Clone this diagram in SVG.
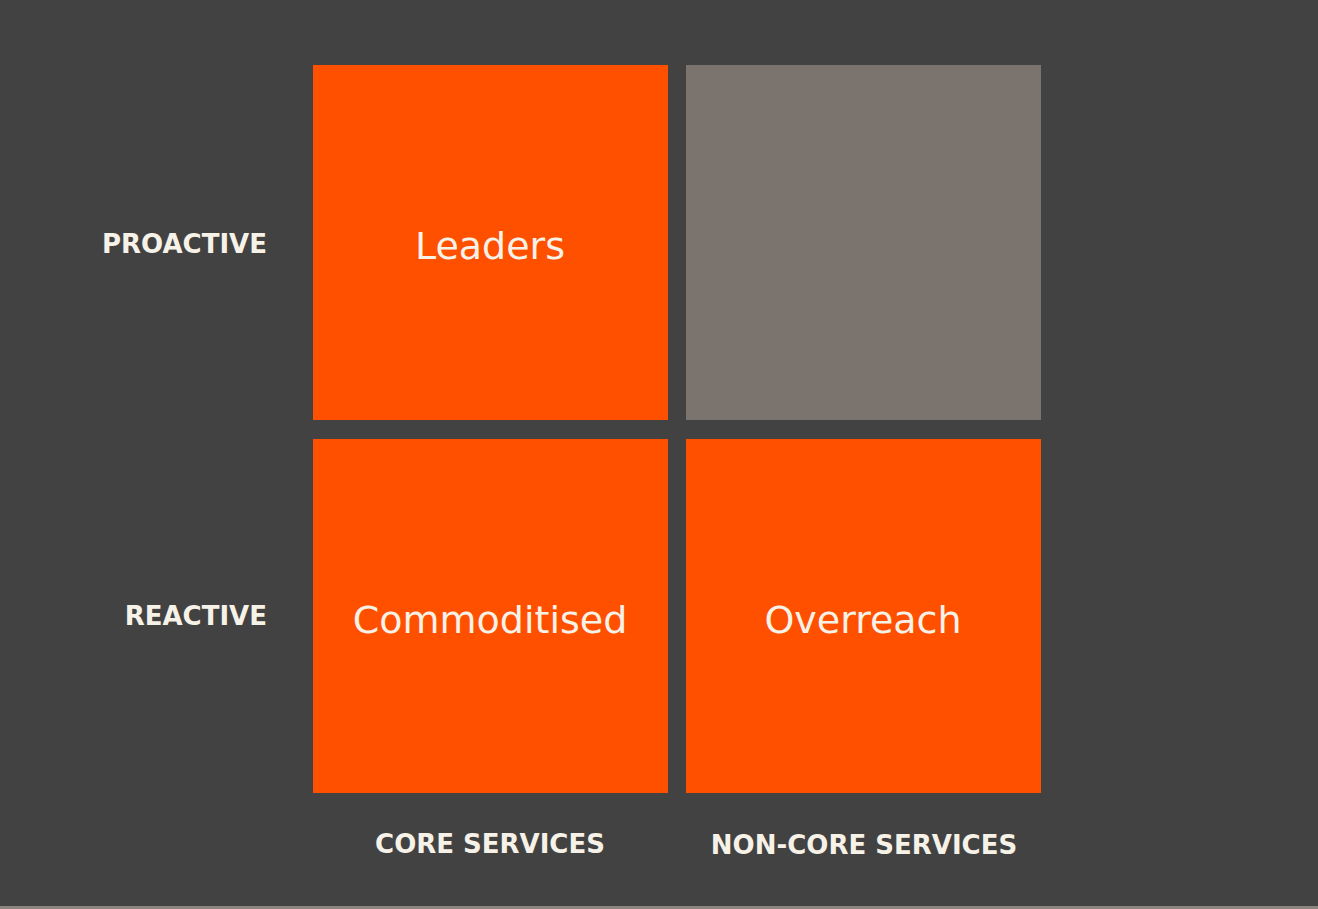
<svg xmlns="http://www.w3.org/2000/svg" width="1318" height="909" viewBox="0 0 1318 909">
<style>
.q{fill:#FF5000}
.t{fill:#F7F2E8;font-family:"DejaVu Sans",Verdana,sans-serif;font-size:38px;text-anchor:middle}
.l{fill:#F7F2E8;font-family:"DejaVu Sans",Verdana,sans-serif;font-size:26px;font-weight:bold}
</style>
<rect width="1318" height="909" fill="#424242"/>
<rect y="906" width="1318" height="3" fill="#8a857f"/>
<g id="leaders"><rect class="q" x="313" y="65" width="355" height="355"/><text class="t" x="490" y="259">Leaders</text></g>
<g id="empty"><rect x="686" y="65" width="355" height="355" fill="#7A736E"/></g>
<g id="commoditised"><rect class="q" x="313" y="439" width="355" height="354"/><text class="t" x="490" y="633">Commoditised</text></g>
<g id="overreach"><rect class="q" x="686" y="439" width="355" height="354"/><text class="t" x="863" y="633">Overreach</text></g>
<g id="labels">
<text class="l" x="267" y="253" text-anchor="end">PROACTIVE</text>
<text class="l" x="267" y="625" text-anchor="end">REACTIVE</text>
<text class="l" x="490" y="853" text-anchor="middle">CORE SERVICES</text>
<text class="l" x="864" y="854" text-anchor="middle">NON-CORE SERVICES</text>
</g>
<g id="connectors"/>
</svg>
